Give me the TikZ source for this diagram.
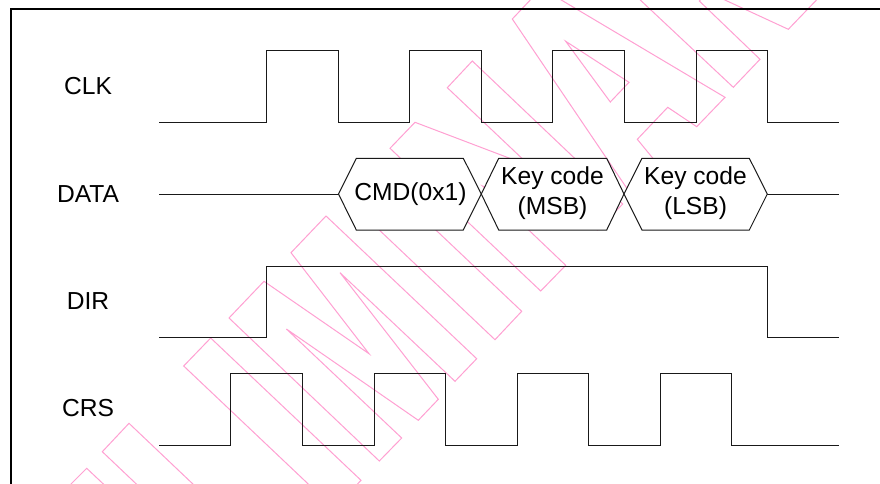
\documentclass[tikz,border=0pt]{standalone}
\usepackage{fontspec}
\setmainfont{Liberation Sans}
\tikzset{
  mark line/.style={draw={rgb,255:red,255;green,160;blue,210},line width=1pt,line join=miter},
  signal/.style={draw=black!90,line width=1pt,line join=miter},
  hexbox/.style={draw=black!90,line width=1pt,fill=white,line join=miter},
  frameline/.style={draw=black,line width=2.2pt},
  siglabel/.style={font=\fontsize{24.6}{30}\selectfont,inner sep=0pt,text=black},
  hexlabel/.style={font=\fontsize{24.6}{30}\selectfont,inner sep=0pt,align=center,text=black}
}
\begin{document}
\begin{tikzpicture}[x=1pt,y=-1pt]
\useasboundingbox (0,0) rectangle (880,484);
\fill[white] (0,0) rectangle (880,484);
\begin{scope}
\clip (0,0) rectangle (880,484);
% watermark outlines
\draw[mark line] (60,495) -- (86.7,468.3) -- (115,495);
\draw[mark line] (150,497) -- (102.3,451.7) -- (129,423.3) -- (215,505);
\draw[mark line] (183.7,366) -- (210.7,338) -- (361,480.3) -- (334.3,508.7) -- cycle;
\draw[mark line] (229,318) -- (264,281.3) -- (369,353.7) -- (291,252.7) -- (326,216) -- (476.7,358.7) -- (455,381.3) -- (340,272.7) -- (438.3,399.3) -- (418.3,420.3) -- (286.4,329) -- (401.7,438) -- (379.3,461) -- cycle;
\draw[mark line] (365,216.5) -- (391.7,188.2) -- (521.7,311.3) -- (495,339.7) -- cycle;
\draw[mark line] (390,148.3) -- (415,122.3) -- (530,166) -- (447.3,87.7) -- (472.3,61) -- (622.7,204) -- (597.7,230) -- (482.5,186) -- (565.7,265.3) -- (540.7,291) -- cycle;
\draw[mark line] (512.3,19) -- (631.4,195) -- (660,167) -- (637.3,139.3) -- (667.7,107.3) -- (696.7,126.7) -- (725,97.3) -- (541.4,-11.8) -- cycle;
\draw[mark line] (565.7,41.3) -- (610.3,102) -- (629,82.3) -- cycle;
\draw[mark line] (620,-19) -- (733.3,87.3) -- (760,59.3) -- (699.3,1) -- (712,-12);
\draw[mark line] (700,-11.5) -- (788.3,29.3) -- (830,-14);
% frame
\draw[frameline] (11,490) -- (11,9) -- (890,9);
\end{scope}
% signals
\draw[signal] (159,122.7) -- (266.7,122.7) -- (266.7,50.7) -- (338.7,50.7) -- (338.7,122.7) -- (409.7,122.7) -- (409.7,50.7) -- (481.3,50.7) -- (481.3,122.7) -- (552.7,122.7) -- (552.7,50.7) -- (624,50.7) -- (624,122.7) -- (696,122.7) -- (696,50.7) -- (767.3,50.7) -- (767.3,122.7) -- (839,122.7);
\draw[signal] (159,337.7) -- (266.7,337.7) -- (266.7,266) -- (767.3,266) -- (767.3,337.7) -- (839,337.7);
\draw[signal] (159,445) -- (230.7,445) -- (230.7,373.7) -- (302.7,373.7) -- (302.7,445) -- (374,445) -- (374,373.7) -- (445.7,373.7) -- (445.7,445) -- (517,445) -- (517,373.7) -- (588.7,373.7) -- (588.7,445) -- (660,445) -- (660,373.7) -- (731.3,373.7) -- (731.3,445) -- (839,445);
\draw[signal] (159,194) -- (338.5,194);
\draw[signal] (767.3,194) -- (839,194);
\draw[hexbox] (338.5,194) -- (356.3,158.3) -- (463.3,158.3) -- (481.3,194) -- (463.3,230) -- (356.3,230) -- cycle;
\draw[hexbox] (481.3,194) -- (498.7,158.3) -- (606.7,158.3) -- (624,194) -- (606.7,230) -- (498.7,230) -- cycle;
\draw[hexbox] (624,194) -- (642,158.3) -- (749.3,158.3) -- (767.3,194) -- (749.3,230) -- (642,230) -- cycle;
% labels
\node[siglabel] (clk) at (88,86) {CLK};
\node[siglabel] (data) at (88,194) {DATA};
\node[siglabel] (dir) at (88,301) {DIR};
\node[siglabel] (crs) at (88,408.5) {CRS};
\node[hexlabel] (cmd) at (410.5,194) {CMD(0x1)};
\node[hexlabel] (msb) at (552.5,193) {Key code\\(MSB)};
\node[hexlabel] (lsb) at (695.5,193) {Key code\\(LSB)};
\end{tikzpicture}
\end{document}
